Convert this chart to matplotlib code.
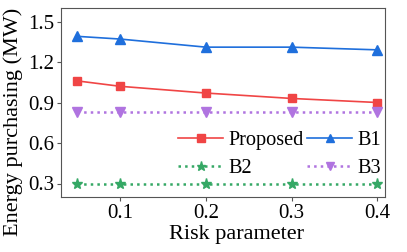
import matplotlib
matplotlib.use("Agg")
import matplotlib.pyplot as plt

x = [0.05, 0.1, 0.2, 0.3, 0.4]
proposed = [1.06, 1.02, 0.97, 0.93, 0.90]
b1 = [1.39, 1.37, 1.31, 1.31, 1.29]
b2 = [0.30, 0.30, 0.30, 0.30, 0.30]
b3 = [0.83, 0.83, 0.83, 0.83, 0.83]
xticks = [0.1, 0.2, 0.3, 0.4]
yticks = [0.3, 0.6, 0.9, 1.2, 1.5]

plt.rcParams['font.family'] = ['Liberation Serif', 'DejaVu Serif']
plt.rcParams['font.size'] = 14

fig = plt.figure(figsize=(4.07, 2.52), dpi=100)
ax = fig.add_axes([61/407, 55/252, 324/407, 189/252])

l1, = ax.plot(x, proposed, color='#f04545', marker='s', markersize=6, lw=1.2, label='Proposed')
l2, = ax.plot(x, b1, color='#1f6fdc', marker='^', markersize=7, lw=1.2, label='B1')
l3, = ax.plot(x, b2, color='#35a865', marker='*', markersize=8, lw=1.8, ls=':', label='B2')
l4, = ax.plot(x, b3, color='#b074e0', marker='v', markersize=7, lw=1.8, ls=':', label='B3')

ax.set_xlim(0.031, 0.409)
ax.set_ylim(0.2, 1.6)
ax.set_xticks(xticks)
ax.set_xticklabels([str(t) for t in xticks])
ax.set_yticks(yticks)
ax.set_yticklabels(['%.1f' % t for t in yticks])
ax.set_xlabel('Risk parameter', fontsize=16)
ax.xaxis.set_label_coords(0.543, -0.2, transform=ax.transAxes)
ax.xaxis.label.set_va('center')
fig.text(13/407, 1 - 122/252, 'Energy purchasing (MW)', fontsize=16,
         rotation=90, ha='center', va='center')
for s in ax.spines.values():
    s.set_color('#555555')
ax.tick_params(colors='#555555', labelcolor='black', length=3, pad=2, labelsize=15)

ax.legend([l1, l3, l2, l4], ['Proposed', 'B2', 'B1', 'B3'], ncol=2, frameon=False,
          loc='lower right', bbox_to_anchor=(1.012, 0.055), columnspacing=0.2,
          handlelength=2.2, handletextpad=0.25, labelspacing=0.45, borderaxespad=0.0,
          fontsize=14.6, markerscale=0.85)

fig.savefig('out.png', dpi=100)
